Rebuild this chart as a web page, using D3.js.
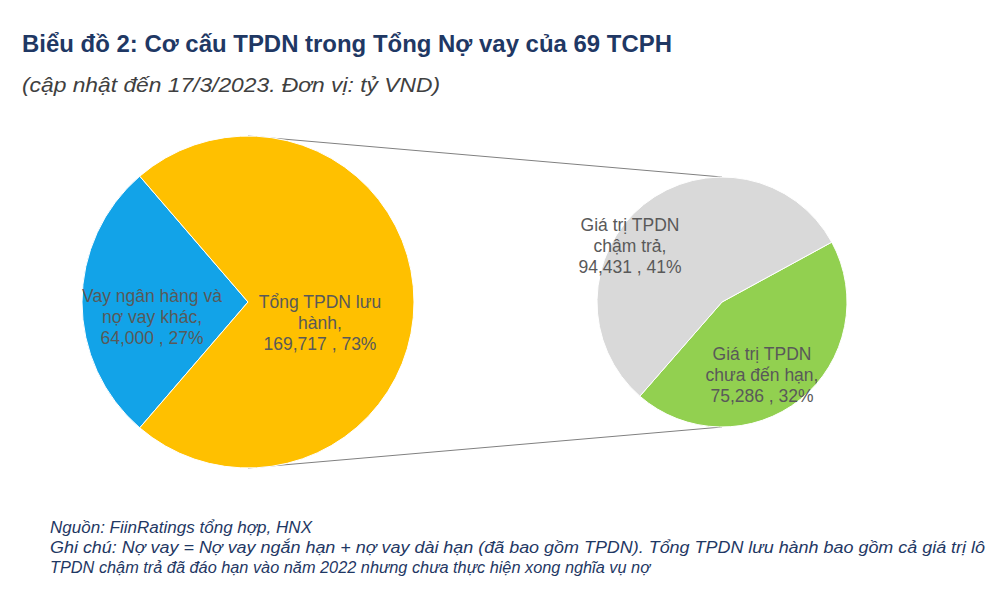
<!DOCTYPE html>
<html><head><meta charset="utf-8">
<script src="https://cdn.jsdelivr.net/npm/d3@7"></script>
<style>body{margin:0;background:#fff;font-family:Arial,"Liberation Sans",sans-serif}</style>
</head><body>
<svg id="c" width="1000" height="609"></svg>
<script>
const mainLabels=["Vay ngân hàng và nợ vay khác","Tổng TPDN lưu hành"];
const mainValues=[64000,169717];
const mainPct=["27%","73%"];
const subLabels=["Giá trị TPDN chưa đến hạn","Giá trị TPDN chậm trả"];
const subValues=[75286,94431];
const subPct=["32%","41%"];
const fmt=d3.format(",");
const svg=d3.select("#c");
svg.append("text").attr("x",22).attr("y",52).attr("font-size",20).attr("font-weight","bold").attr("fill","#1f3864").attr("textLength",650).attr("lengthAdjust","spacingAndGlyphs").style("font-size","23px").text("Biểu đồ 2: Cơ cấu TPDN trong Tổng Nợ vay của 69 TCPH");
svg.append("text").attr("x",22).attr("y",92).attr("font-style","italic").attr("fill","#404040").attr("textLength",418).attr("lengthAdjust","spacingAndGlyphs").style("font-size","21px").text("(cập nhật đến 17/3/2023. Đơn vị: tỷ VND)");

const c1=[248,302],r1=166,c2=[722,302],r2=125;
svg.append("line").attr("x1",c1[0]).attr("y1",c1[1]-r1).attr("x2",c2[0]).attr("y2",c2[1]-r2).attr("stroke","#808080");
svg.append("line").attr("x1",c1[0]).attr("y1",c1[1]+r1).attr("x2",c2[0]).attr("y2",c2[1]+r2).attr("stroke","#808080");

const bluePart=mainValues[0]/d3.sum(mainValues)*2*Math.PI;
const pie1=d3.pie().sort(null).startAngle(1.5*Math.PI-bluePart/2).endAngle(3.5*Math.PI-bluePart/2);
const arc1=d3.arc().innerRadius(0).outerRadius(r1);
const g1=svg.append("g").attr("transform",`translate(${c1})`);
const cols1=["#12a3e8","#ffc000"];
g1.selectAll("path").data(pie1(mainValues)).join("path").attr("d",arc1).attr("fill",(d,i)=>cols1[i]).attr("stroke","#fff").attr("stroke-width",1);

const greenStart=61.4*Math.PI/180;
const pie2=d3.pie().sort(null).startAngle(greenStart).endAngle(greenStart+2*Math.PI);
const arc2=d3.arc().innerRadius(0).outerRadius(r2);
const g2=svg.append("g").attr("transform",`translate(${c2})`);
const cols2=["#92d050","#d9d9d9"];
g2.selectAll("path").data(pie2(subValues)).join("path").attr("d",arc2).attr("fill",(d,i)=>cols2[i]).attr("stroke","#fff").attr("stroke-width",1);

function label(x,y,lines){
  const t=svg.append("text").attr("font-size",17.5).attr("fill","#595959").attr("text-anchor","middle");
  lines.forEach((l,i)=>t.append("tspan").attr("x",x).attr("y",y+i*21).text(l));
}
label(152,302,["Vay ngân hàng và","nợ vay khác,",fmt(mainValues[0])+" , "+mainPct[0]]);
label(320,308,["Tổng TPDN lưu","hành,",fmt(mainValues[1])+" , "+mainPct[1]]);
label(630,231,["Giá trị TPDN","chậm trả,",fmt(subValues[1])+" , "+subPct[1]]);
label(762,360,["Giá trị TPDN","chưa đến hạn,",fmt(subValues[0])+" , "+subPct[0]]);

const foot=["Nguồn: FiinRatings tổng hợp, HNX",
"Ghi chú: Nợ vay = Nợ vay ngắn hạn + nợ vay dài hạn  (đã bao gồm TPDN). Tổng TPDN lưu hành bao gồm cả giá trị lô",
"TPDN chậm trả đã đáo hạn vào năm 2022 nhưng chưa thực hiện xong nghĩa vụ nợ"];
const fw=[262,935,600];
foot.forEach((f,i)=>svg.append("text").attr("x",50).attr("y",533+i*20).attr("font-style","italic").attr("fill","#1f3864").attr("textLength",fw[i]).attr("lengthAdjust","spacingAndGlyphs").style("font-size","16px").text(f));
</script></body></html>
